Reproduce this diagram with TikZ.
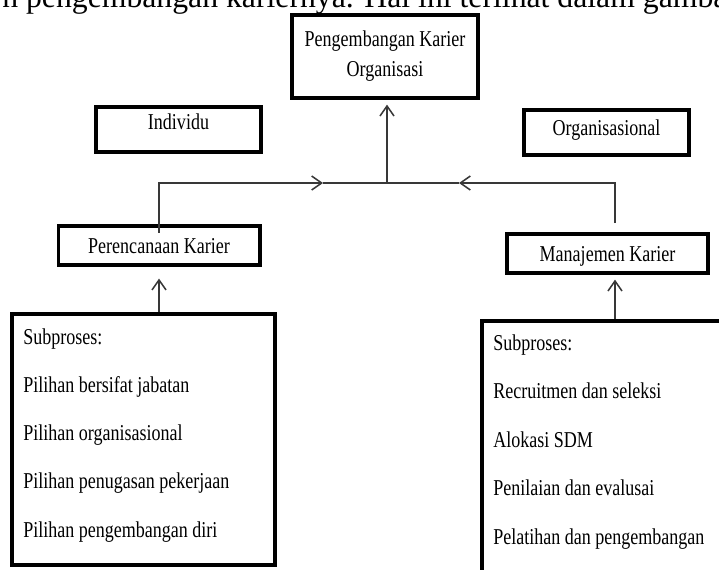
\documentclass[tikz,border=0pt]{standalone}
\usepackage{fontspec}
\setmainfont{Liberation Serif}[FakeStretch=0.795]
\newfontfamily\bodyfont{Liberation Serif}
\usepackage{tikz}
\usetikzlibrary{
  arrows.meta,
  positioning
}

\tikzset{
  kotak/.style={draw, line width=2.8pt, inner sep=0pt, align=center,
    font=\fontsize{17}{22.5}\selectfont},
  daftar/.style={anchor=base west, inner sep=0pt, font=\fontsize{17}{22.5}\selectfont},
  garis/.style={line width=1.15pt, draw=black!78},
  >={Straight Barb[length=7.5pt,width=10.5pt]}
}

\begin{document}
\begin{tikzpicture}[x=0.75pt, y=-0.75pt]
  \useasboundingbox (0,0) rectangle (719,569);
  \clip (0,0) rectangle (719,569);

  % sisa kalimat di atas gambar
  \node (kalimat) [anchor=base west, inner sep=0pt, font=\bodyfont\fontsize{23.8}{28}\selectfont] at (2,7)
    {n pengembangan kariernya. Hal ini terlihat dalam gambar};

  % kotak-kotak
  \node (atas) [kotak, minimum width=139.7pt, minimum height=62.45pt] at (385,56.5) {Pengembangan Karier\\Organisasi};
  \node (indiv) [kotak, minimum width=123.95pt, minimum height=33.95pt, text depth=11.5pt] at (178.5,129.5) {Individu};
  \node (orgs) [kotak, minimum width=123.95pt, minimum height=33.95pt, text depth=7.5pt] at (606.5,132.5) {Organisasional};
  \node (renc) [kotak, minimum width=150.95pt, minimum height=29.45pt, text depth=0pt] at (159,245.5) {Perencanaan Karier};
  \node (manaj) [kotak, minimum width=150.95pt, minimum height=29.45pt, text depth=0pt] at (607.5,253.5) {Manajemen Karier};
  \node (subkiri) [kotak, minimum width=197.45pt, minimum height=188.45pt] at (143.5,439.5) {};
  \node (subkanan) [kotak, minimum width=207.2pt, minimum height=207.95pt] at (620,459.5) {};

  % isi subproses
  \foreach \teks [count=\i] in {Subproses:, Pilihan bersifat jabatan, Pilihan organisasional,
      Pilihan penugasan pekerjaan, Pilihan pengembangan diri}
    \node (kiri\i) [daftar] at (23,{344+48.25*(\i-1)}) {\teks};
  \foreach \teks [count=\i] in {Subproses:, Recruitmen dan seleksi, Alokasi SDM,
      Penilaian dan evalusai, Pelatihan dan pengembangan}
    \node (kanan\i) [daftar] at (493,{350+48.5*(\i-1)}) {\teks};

  % titik bantu garis penghubung
  \coordinate (temu) at (387,183);
  \coordinate (ujungkiri) at (323,183);
  \coordinate (ujungkanan) at (459,183);
  \coordinate (turunkanan) at (615,223);

  % garis penghubung
  \draw[garis,->,shorten <=-6.5pt] (renc.north) |- (ujungkiri);
  \draw[garis] (ujungkiri) -- (ujungkanan);
  \draw[garis,->] (turunkanan) |- (ujungkanan);
  \draw[garis,->,shorten >=3.5pt] (temu) -- (temu |- atas.south);
  \draw[garis,->,shorten >=8.7pt] (subkiri.north -| renc) -- (renc.south);
  \draw[garis,->,shorten >=3.5pt] (subkanan.north -| turunkanan) -- (turunkanan |- manaj.south);
\end{tikzpicture}
\end{document}
